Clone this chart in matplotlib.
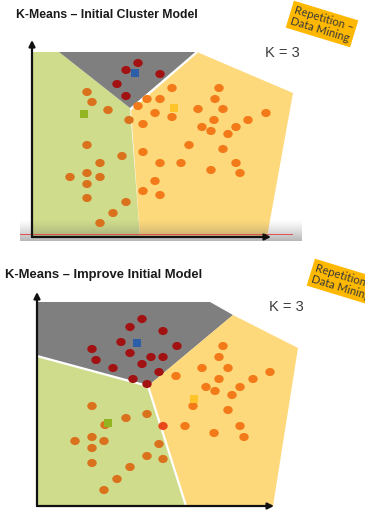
import matplotlib
matplotlib.use("Agg")
import matplotlib.pyplot as plt
import numpy as np
from matplotlib.path import Path
from matplotlib.patches import Polygon
from matplotlib.transforms import Affine2D

# ---------------- text ----------------
top_title = "K-Means – Initial Cluster Model"
bottom_title = "K-Means – Improve Initial Model"
k_label = "K = 3"
note_text = "Repetition –\nData Mining"

# ---------------- upper slide: initial model ----------------
top_green_region = [(33, 52), (59, 52), (130, 108), (140, 237), (33, 237)]
top_gray_region = [(59, 52), (196, 52), (130, 108)]
top_yellow_region = [(197, 52), (293, 93), (267, 237), (140, 237), (131, 110)]

top_red_x = [138, 126, 160, 117, 126]
top_red_y = [63, 70, 74, 84, 96]

top_green_pts_x = [87, 92, 108, 129, 87, 122, 100, 70, 87, 100, 87, 87, 126, 113, 100]
top_green_pts_y = [92, 102, 110, 120, 145, 156, 163, 177, 173, 177, 184, 198, 202, 213, 223]

top_yellow_pts_x = [172, 219, 147, 160, 215, 138, 198, 223, 266, 155, 172, 214, 248,
                    143, 202, 211, 236, 228, 189, 223, 143, 160, 181, 236, 211, 240,
                    155, 143, 160]
top_yellow_pts_y = [88, 88, 99, 99, 99, 106, 109, 109, 113, 113, 117, 120, 120,
                    124, 127, 131, 127, 134, 145, 149, 152, 163, 163, 163, 170, 173,
                    181, 191, 195]

top_centroids_x = [135, 174, 84]
top_centroids_y = [73, 108, 114]

# ---------------- lower slide: improved model ----------------
bot_gray_region = [(37, 302), (210, 302), (233, 315), (148, 386), (37, 356)]
bot_yellow_region = [(233, 315), (298, 348), (273, 506), (186, 506), (148, 386)]
bot_green_region = [(37, 356), (148, 386), (186, 506), (37, 506)]

bot_red_x = [142, 130, 163, 121, 177, 92, 130, 151, 163, 96, 142, 113, 159, 133, 147]
bot_red_y = [319, 327, 331, 342, 346, 349, 353, 357, 357, 360, 364, 368, 372, 379, 384]

bot_yellow_pts_x = [223, 219, 202, 228, 270, 176, 219, 253, 206, 215, 240, 232,
                    193, 228, 185, 214, 240, 244]
bot_yellow_pts_y = [346, 357, 368, 368, 372, 376, 379, 379, 387, 391, 387, 395,
                    406, 410, 426, 433, 426, 437]

bot_green_pts_x = [92, 126, 147, 105, 75, 92, 104, 92, 159, 147, 163, 92, 130, 117, 104]
bot_green_pts_y = [406, 418, 414, 425, 441, 437, 441, 448, 444, 456, 459, 463, 467, 479, 490]

bot_edge_pts_x = [163]
bot_edge_pts_y = [426]

bot_centroids_x = [137, 194, 108]
bot_centroids_y = [343, 399, 423]

# ---------------- colours ----------------
GREEN = "#cfdc8c"
GRAY = "#7f7f7f"
YELLOW = "#fed97c"
ORANGE = "#f27a18"
ORANGE_DARK = "#da711c"
RED = "#a31212"
RED_ORANGE = "#e8481a"
CENTROID_COLORS = ["#2d5fa8", "#ffc42a", "#92b521"]
NOTE_BG = "#ffb800"

# slightly flattened dot
dot = Path.unit_circle().transformed(Affine2D().scale(1.0, 0.86))

fig = plt.figure(figsize=(3.65, 5.12), dpi=100)
ax = fig.add_axes([0, 0, 1, 1])
ax.set_xlim(0, 365)
ax.set_ylim(512, 0)
ax.axis("off")


def regions(polys, colors):
    for poly, c in zip(polys, colors):
        ax.add_patch(Polygon(poly, closed=True, facecolor=c, edgecolor="none", zorder=1))


def dots(xs, ys, color):
    ax.scatter(xs, ys, s=46, marker=dot, color=color, edgecolors="none", zorder=4)


def centroids(xs, ys):
    ax.scatter(xs, ys, s=40, marker="s", color=CENTROID_COLORS, edgecolors="none", zorder=5)


def arrows(origin, xtip, ytip):
    for tip in (xtip, ytip):
        ax.annotate("", xy=tip, xytext=origin,
                    arrowprops=dict(arrowstyle="-|>", color="#111111", lw=1.6,
                                    mutation_scale=9, shrinkA=0, shrinkB=0),
                    zorder=6)


def boundary(p, q):
    ax.plot([p[0], q[0]], [p[1], q[1]], color="white", lw=1.6, zorder=2,
            solid_capstyle="butt")


def note(x, y):
    ax.text(x, y, note_text, rotation=-17, rotation_mode="anchor", ha="center",
            va="center", fontsize=8.2, family="Lato", color="#3a3a3a",
            linespacing=1.05, zorder=8, clip_on=True,
            bbox=dict(boxstyle="square,pad=0.25", facecolor=NOTE_BG, edgecolor="none"))


# ---- upper slide ----
regions([top_green_region, top_gray_region, top_yellow_region], [GREEN, GRAY, YELLOW])
boundary((131, 109), (197, 52))
dots(top_red_x, top_red_y, RED)
dots(top_green_pts_x, top_green_pts_y, ORANGE_DARK)
dots(top_yellow_pts_x, top_yellow_pts_y, ORANGE)
centroids(top_centroids_x, top_centroids_y)

# darkened strip along the bottom edge of the upper slide
grad = np.zeros((64, 2, 4))
grad[..., :3] = 0.38
grad[..., 3] = np.linspace(0.0, 0.55, 64)[:, None] ** 1.3
ax.imshow(grad, extent=[20, 302, 241, 219], aspect="auto", zorder=3, interpolation="bilinear")
ax.plot([20, 292], [233.5, 233.5], color="#e05050", lw=0.7, zorder=6)

arrows((32, 237), (271, 237), (32, 40))
ax.text(16, 15, top_title, fontsize=8.8, fontweight="bold", family="Liberation Sans",
        color="#1a1a1a", va="center", ha="left", zorder=7)
ax.text(265, 53, k_label, fontsize=10.5, family="Liberation Sans", color="#3c3c3c",
        va="center", ha="left", zorder=7)
note(322, 24)

# ---- lower slide ----
regions([bot_gray_region, bot_yellow_region, bot_green_region], [GRAY, YELLOW, GREEN])
boundary((37, 356), (148, 386))
boundary((148, 386), (186, 506))
dots(bot_red_x, bot_red_y, RED)
dots(bot_yellow_pts_x, bot_yellow_pts_y, ORANGE)
dots(bot_green_pts_x, bot_green_pts_y, ORANGE_DARK)
dots(bot_edge_pts_x, bot_edge_pts_y, RED_ORANGE)
centroids(bot_centroids_x, bot_centroids_y)

arrows((37, 506), (274, 506), (37, 292))
ax.text(5, 275, bottom_title, fontsize=9.4, fontweight="bold", family="Liberation Sans",
        color="#1a1a1a", va="center", ha="left", zorder=7)
ax.text(269, 307, k_label, fontsize=10.5, family="Liberation Sans", color="#3c3c3c",
        va="center", ha="left", zorder=7)
note(343, 282)

fig.savefig("out.png", dpi=100)
